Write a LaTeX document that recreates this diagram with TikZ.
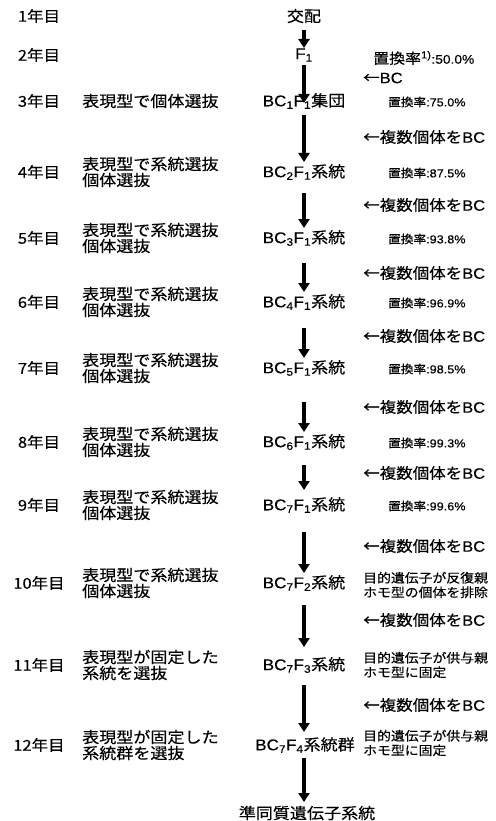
\documentclass[tikz,border=0pt]{standalone}
\usepackage{fontspec}
\setmainfont[FakeStretch=1.1,FakeBold=0.3]{Noto Sans CJK JP}
\newfontfamily\lat[FakeStretch=1.1,FakeBold=0.3]{Liberation Sans}
\usetikzlibrary{arrows.meta,calc}
\newcommand\sbs[1]{\textsubscript{#1}}
\tikzset{
  yr/.style={anchor=center,font=\fontsize{15}{15}\selectfont,inner sep=0pt},
  lt/.style={anchor=west,align=left,font=\fontsize{15.5}{16}\selectfont,inner sep=0pt},
  mid/.style={anchor=center,font=\fontsize{15.5}{15}\selectfont,inner sep=0pt},
  midbig/.style={anchor=center,font=\fontsize{15.5}{16}\selectfont,inner sep=0pt},
  bc/.style={anchor=west,font=\fontsize{15}{15}\selectfont,inner sep=0pt},
  rate/.style={anchor=west,font=\fontsize{11.5}{12}\selectfont,inner sep=0pt},
  note/.style={anchor=west,align=left,font=\fontsize{12.6}{14.5}\selectfont,inner sep=0pt},
  arr/.style={line width=3.3pt,-{Triangle[width=11pt,length=9pt]}}
}
\begin{document}
\begin{tikzpicture}[x=1pt,y=-1pt]
\useasboundingbox (0,0) rectangle (495,821);
% year labels
\node[yr] (y1) at (39,16) {1年目};
\node[yr] (y2) at (39,55) {2年目};
\node[yr] (y3) at (39,101) {3年目};
\node[yr] (y4) at (39,172) {4年目};
\node[yr] (y5) at (39,238) {5年目};
\node[yr] (y6) at (39,302) {6年目};
\node[yr] (y7) at (39,368) {7年目};
\node[yr] (y8) at (39,442) {8年目};
\node[yr] (y9) at (39,505) {9年目};
\node[yr] (y10) at (39,583) {10年目};
\node[yr] (y11) at (39,665) {11年目};
\node[yr] (y12) at (39,745) {12年目};
% left descriptions
\node[lt] (l3) at (82,101) {表現型で個体選抜};
\node[lt] (l4) at (82,172) {表現型で系統選抜\\個体選抜};
\node[lt] (l5) at (82,238) {表現型で系統選抜\\個体選抜};
\node[lt] (l6) at (82,302) {表現型で系統選抜\\個体選抜};
\node[lt] (l7) at (82,368) {表現型で系統選抜\\個体選抜};
\node[lt] (l8) at (82,442) {表現型で系統選抜\\個体選抜};
\node[lt] (l9) at (82,505) {表現型で系統選抜\\個体選抜};
\node[lt] (l10) at (82,583) {表現型で系統選抜\\個体選抜};
\node[lt] (l11) at (82,665) {表現型が固定した\\系統を選抜};
\node[lt] (l12) at (82,745) {表現型が固定した\\系統群を選抜};
% middle column
\node[midbig] (m1) at (304,16) {交配};
\node[mid] (m2) at (304,55) {{\lat F\sbs{1}}};
\node[mid] (m3) at (304,101) {{\lat BC\sbs{1}F\sbs{1}}集団};
\node[mid] (m4) at (304,172) {{\lat BC\sbs{2}F\sbs{1}}系統};
\node[mid] (m5) at (304,238) {{\lat BC\sbs{3}F\sbs{1}}系統};
\node[mid] (m6) at (304,302) {{\lat BC\sbs{4}F\sbs{1}}系統};
\node[mid] (m7) at (304,368) {{\lat BC\sbs{5}F\sbs{1}}系統};
\node[mid] (m8) at (304,442) {{\lat BC\sbs{6}F\sbs{1}}系統};
\node[mid] (m9) at (304,505) {{\lat BC\sbs{7}F\sbs{1}}系統};
\node[mid] (m10) at (304,583) {{\lat BC\sbs{7}F\sbs{2}}系統};
\node[mid] (m11) at (304,665) {{\lat BC\sbs{7}F\sbs{3}}系統};
\node[mid] (m12) at (305,745) {{\lat BC\sbs{7}F\sbs{4}}系統群};
\node[midbig] (m13) at (307,813) {準同質遺伝子系統};
% arrows
\draw[arr] ($(m1)+(0,14)$) -- ($(m1|-m2)+(0,-7)$);
\draw[arr] ($(m2)+(0,10)$) -- ($(m2|-m3)+(0,2)$);
\draw[arr] ($(m3)+(0,14)$) -- ($(m3|-m4)+(0,-10)$);
\draw[arr] ($(m4)+(0,21)$) -- ($(m4|-m5)+(0,-10)$);
\draw[arr] ($(m5)+(0,25)$) -- ($(m5|-m6)+(0,-10)$);
\draw[arr] ($(m6)+(0,26)$) -- ($(m6|-m7)+(0,-10)$);
\draw[arr] ($(m7)+(0,34)$) -- ($(m7|-m8)+(0,-10)$);
\draw[arr] ($(m8)+(0,23)$) -- ($(m8|-m9)+(0,-15)$);
\draw[arr] ($(m9)+(0,27)$) -- ($(m9|-m10)+(0,-10)$);
\draw[arr] ($(m10)+(0,22)$) -- ($(m10|-m11)+(0,-18)$);
\draw[arr] ($(m11)+(0,20)$) -- ($(m11|-m12)+(0,-13)$);
\draw[arr] ($(m11|-m12)+(0,13)$) -- ($(m11|-m13)+(0,-11)$);
% right column: backcross labels
\node[bc] (b1) at (363,78) {←{\lat BC}};
\node[bc] (b2) at (363,137) {←複数個体を{\lat BC}};
\node[bc] (b3) at (363,205) {←複数個体を{\lat BC}};
\node[bc] (b4) at (363,273) {←複数個体を{\lat BC}};
\node[bc] (b5) at (363,336) {←複数個体を{\lat BC}};
\node[bc] (b6) at (363,407) {←複数個体を{\lat BC}};
\node[bc] (b7) at (363,473) {←複数個体を{\lat BC}};
\node[bc] (b8) at (363,546) {←複数個体を{\lat BC}};
\node[bc] (b9) at (363,620) {←複数個体を{\lat BC}};
\node[bc] (b10) at (363,705) {←複数個体を{\lat BC}};
% right column: replacement rates
\node[anchor=west,inner sep=0pt,font=\fontsize{14.5}{15}\selectfont] (r2) at (373,58) {置換率{\lat\textsuperscript{1)}\fontsize{12.5}{15}\selectfont :50.0\%}};
\node[rate] (r3) at (388,102) {置換率{\lat :75.0\%}};
\node[rate] (r4) at (388,173) {置換率{\lat :87.5\%}};
\node[rate] (r5) at (388,239) {置換率{\lat :93.8\%}};
\node[rate] (r6) at (388,303) {置換率{\lat :96.9\%}};
\node[rate] (r7) at (388,369) {置換率{\lat :98.5\%}};
\node[rate] (r8) at (388,443) {置換率{\lat :99.3\%}};
\node[rate] (r9) at (388,506) {置換率{\lat :99.6\%}};
\node[note] (n10) at (363,585) {目的遺伝子が反復親\\ホモ型の個体を排除};
\node[note] (n11) at (363,665) {目的遺伝子が供与親\\ホモ型に固定};
\node[note] (n12) at (363,743) {目的遺伝子が供与親\\ホモ型に固定};
\end{tikzpicture}
\end{document}
